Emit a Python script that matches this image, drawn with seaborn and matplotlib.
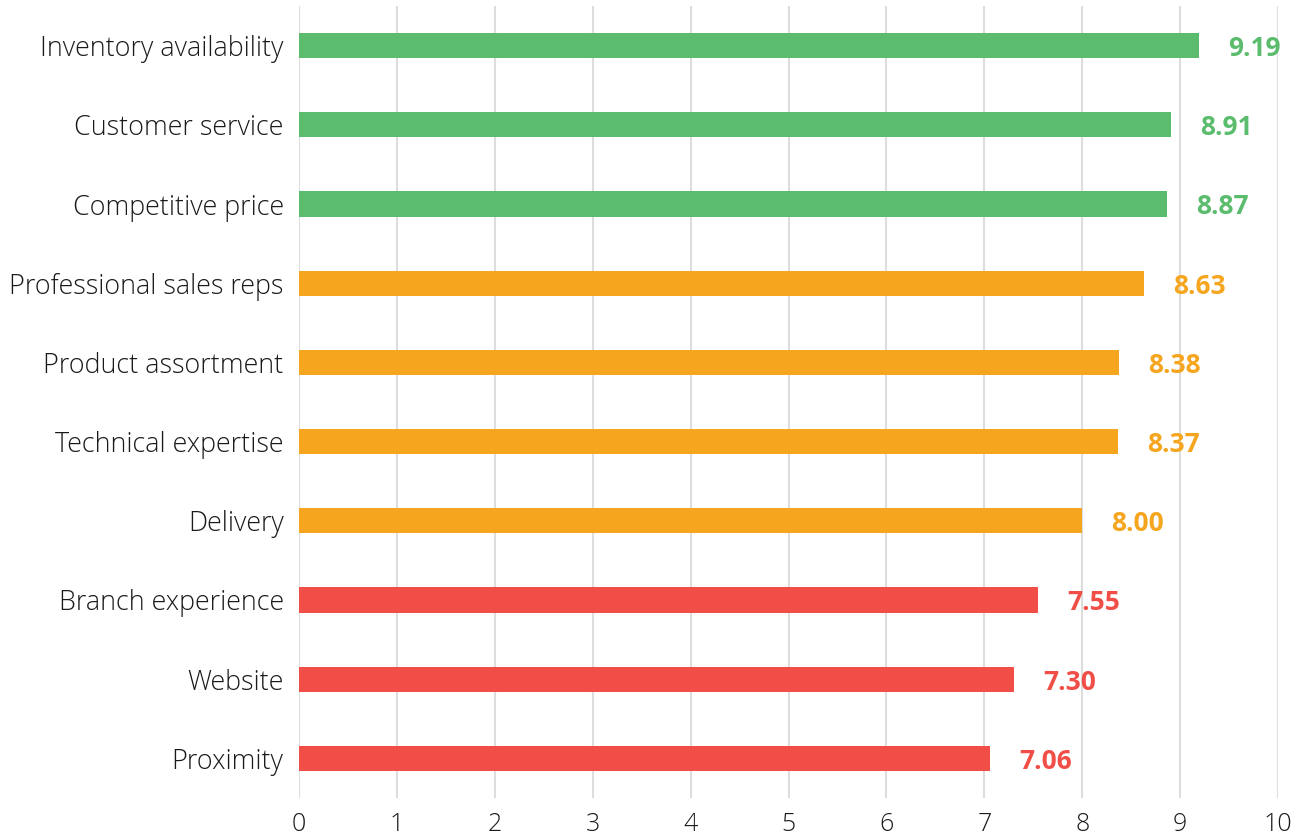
import matplotlib
matplotlib.use("Agg")
import matplotlib.pyplot as plt
import seaborn as sns
import pandas as pd

categories = ["Inventory availability", "Customer service", "Competitive price",
              "Professional sales reps", "Product assortment", "Technical expertise",
              "Delivery", "Branch experience", "Website", "Proximity"]
values = [9.19, 8.91, 8.87, 8.63, 8.38, 8.37, 8.00, 7.55, 7.30, 7.06]
groups = ["high", "high", "high", "mid", "mid", "mid", "mid", "low", "low", "low"]
palette = {"high": "#5BBC6E", "mid": "#F5A61E", "low": "#F04E46"}
x_ticks = [0, 1, 2, 3, 4, 5, 6, 7, 8, 9, 10]

df = pd.DataFrame({"category": categories, "value": values, "group": groups})

sns.set_theme(style="white")
plt.rcParams['font.family'] = ['Open Sans', 'DejaVu Sans']

fig = plt.figure(figsize=(13.05, 8.36), dpi=100)
ax = fig.add_axes([299/1305, 1 - 798/836, (1278-299)/1305, (798-6)/836])

sns.barplot(data=df, y="category", x="value", hue="group", palette=palette,
            dodge=False, legend=False, width=0.32, saturation=1, linewidth=0,
            ax=ax, order=categories)

ax.set_xlim(0, 10)
ax.set_ylim(len(categories) - 0.5, -0.5)
ax.set_xticks(x_ticks)
ax.set_xticklabels([str(t) for t in x_ticks], fontsize=18, fontweight='light', color='#1A1A1A')
ax.set_yticklabels(categories, fontsize=19.4, fontweight='light', color='#1A1A1A')
ax.tick_params(axis='x', length=0, pad=10)
ax.tick_params(axis='y', length=0, pad=11)
ax.set_xlabel("")
ax.set_ylabel("")
ax.grid(axis='x', color='#DDDDDD', linewidth=1.5)
ax.set_axisbelow(True)
for s in ax.spines.values():
    s.set_visible(False)

for i, (v, g) in enumerate(zip(values, groups)):
    ax.annotate(f"{v:.2f}", xy=(v, i), xytext=(21, 0), textcoords="offset points",
                ha="left", va="center_baseline", fontsize=19, fontweight="bold",
                color=palette[g])

fig.savefig("out.png", dpi=100)
